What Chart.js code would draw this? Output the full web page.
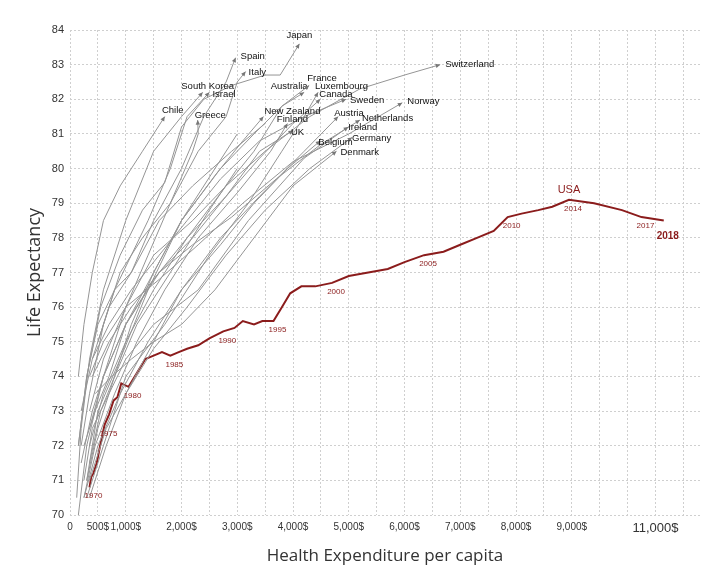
<!DOCTYPE html>
<html><head><meta charset="utf-8">
<script src="https://cdn.jsdelivr.net/npm/chart.js@4"></script>
<style>html,body{margin:0;background:#fff}#w{width:710px;height:566px}</style>
</head><body><div id="w"><canvas id="c"></canvas></div>
<script>
const countryNames=["Japan","Spain","Italy","Switzerland","South Korea","Israel","Chile","Greece","Australia","France","Luxembourg","Canada","Sweden","Norway","New Zealand","Finland","UK","Austria","Netherlands","Ireland","Germany","Belgium","Denmark","","",""];
const countryX=[
[150,300,550,900,1300,1700,2000,2400,2900,3500,3770,4115],
[150,300,500,800,1100,1500,2000,2400,2800,2970],
[200,400,700,1000,1400,1800,2300,2800,3000,3150],
[350,600,1000,1500,2200,2800,3500,4300,5200,6000,6640],
[120,200,350,600,1000,1500,2000,2380],
[500,800,1100,1400,1800,2100,2500],
[150,250,400,600,900,1300,1700],
[200,350,600,900,1300,1800,2200,2300,2290],
[300,500,900,1400,2000,2700,3300,3800,4200],
[350,600,1000,1500,2100,2800,3300,3800,4290],
[300,600,1000,1700,2500,3200,3800,4200,4450],
[350,600,1000,1600,2200,2800,3400,4000,4490],
[400,700,1100,1600,2100,2700,3400,4200,4950],
[350,600,1000,1600,2300,3100,4000,5000,5960],
[350,550,800,1100,1500,2000,2600,3100,3470],
[250,450,800,1200,1700,2300,3000,3600,3900],
[250,450,700,1000,1500,2100,2800,3400,4000],
[250,500,900,1400,2000,2700,3400,4200,4810],
[400,700,1100,1600,2200,2900,3700,4500,5200],
[250,400,700,1000,1500,2300,3200,4200,4990],
[350,650,1000,1500,2100,2800,3500,4300,5060],
[350,650,1000,1500,2000,2700,3300,3900,4490],
[450,750,1100,1500,2000,2600,3300,4000,4780],
[150,300,600,1000,1500,2000,2600,3000],
[200,400,700,1100,1600,2200,2900,3500],
[300,500,800,1200,1800,2500,3000]];
const countryY=[
[72,74,76,77.5,78.8,79.6,81.2,82,82.4,82.7,82.7,83.6],
[72,74,75.5,76.5,77,78.5,80,81.5,82.5,83.2],
[71.5,73,74.5,76,77.5,79,80.5,81.5,82.5,82.8],
[73,74.5,76,77.5,78.5,79.5,80.5,81.5,82.3,82.7,83.0],
[70.5,72.5,74.5,76.5,78.5,80.5,81.5,82.2],
[75,76.5,77.5,78.5,80,81.5,82.2],
[74,75.5,77,78.5,79.5,80.5,81.5],
[72,73.5,75.5,77,78,79,80.5,81.0,81.4],
[71,73,74.5,76.5,78.5,80,81,81.8,82.2],
[72,73.5,75,76.5,78,79.5,80.5,81.8,82.4],
[70.5,72,74,75.5,77.5,79,80.5,81.5,82.2],
[72.5,74,75.5,77,78,79.2,80.3,81.3,82.0],
[74.5,75.5,76.5,77.5,78.5,79.7,80.8,81.5,82.0],
[74,75,76,76.8,77.8,79,80.2,81.0,81.9],
[71.5,73,74,75.5,77,78.5,79.8,80.8,81.5],
[70.5,72,73.5,75,76.5,78,79.3,80.5,81.3],
[72,73,74,75.5,76.8,78,79.2,80.5,81.1],
[70.5,72,73.5,75,76.5,78,79.2,80.5,81.5],
[74,75,76,77,77.8,78.6,79.7,80.7,81.4],
[71,72.5,73.5,74.5,75.5,76.5,78.5,80.3,81.2],
[70.5,72,73.5,74.8,76,77.5,78.8,80,80.9],
[71,72.5,73.5,75,76.5,77.8,79,80,80.8],
[73.5,74,74.5,75,75.5,76.5,78,79.5,80.5],
[70,72,74,75.5,77,78.5,80,81],
[73,74.5,76,77,78.5,79.5,80.5,81.3],
[71,72.5,74,75.5,77,78.8,80]];
const labelPos=[[0,-8,"center"],[5,-1,"left"],[3,1,"left"],[5,0,"left"],[5,-6,"center"],[3,2,"left"],[8,-6,"center"],[-3,-5,"left"],[-15,-6,"center"],[-2,-7,"left"],[-3,-6,"left"],[-1,-5,"left"],[4,1,"left"],[5,-1,"left"],[1,-5,"left"],[5,-4,"center"],[-2,2,"left"],[-4,-3,"left"],[2,-2,"left"],[0,0,"left"],[0,1,"left"],[-2,2,"left"],[4,1,"left"],[0,0,"left"],[0,0,"left"],[0,0,"left"]];
const usaYears=[1970,1971,1972,1973,1974,1975,1976,1977,1978,1979,1980,1981,1982,1983,1984,1985,1986,1987,1988,1989,1990,1991,1992,1993,1994,1995,1996,1997,1998,1999,2000,2001,2002,2003,2004,2005,2006,2007,2008,2009,2010,2011,2012,2013,2014,2015,2016,2017,2018];
const usaX=[350,380,420,480,540,620,700,780,850,920,1050,1200,1350,1500,1650,1800,1950,2100,2300,2500,2750,2950,3100,3300,3450,3650,3800,3950,4150,4400,4700,5000,5350,5700,6000,6350,6700,7000,7300,7600,7850,8100,8400,8650,8950,9400,9900,10250,10650];
const usaY=[70.8,71.1,71.2,71.5,72.0,72.6,72.9,73.3,73.4,73.8,73.7,74.1,74.5,74.6,74.7,74.6,74.7,74.8,74.9,75.1,75.3,75.4,75.6,75.5,75.6,75.6,76.0,76.4,76.6,76.6,76.7,76.9,77.0,77.1,77.3,77.5,77.6,77.8,78.0,78.2,78.6,78.7,78.8,78.9,79.1,79.0,78.8,78.6,78.5];
const usaLabelYears=[1970,1975,1980,1985,1990,1995,2000,2005,2010,2014,2017,2018];
const xTickLabels={0:"0",500:"500$",1000:"1,000$",2000:"2,000$",3000:"3,000$",4000:"4,000$",5000:"5,000$",6000:"6,000$",7000:"7,000$",8000:"8,000$",9000:"9,000$",10500:"11,000$"};

const GRAY='#959595', RED='#8b1c1c';
const datasets=countryX.map((xs,i)=>({label:countryNames[i],data:xs.map((x,j)=>({x,y:countryY[i][j]})),borderColor:GRAY,borderWidth:1,pointRadius:0,tension:0,clip:false}));
datasets.push({label:'USA',data:usaX.map((x,j)=>({x,y:usaY[j]})),borderColor:RED,borderWidth:2,pointRadius:0,tension:0});

const annot={id:'annot',afterDatasetsDraw(ch){
 const c=ch.ctx,xs=ch.scales.x,ys=ch.scales.y;
 c.save();
 countryX.forEach((xsArr,i)=>{
  const n=xsArr.length,x1=xs.getPixelForValue(xsArr[n-1]),y1=ys.getPixelForValue(countryY[i][n-1]);
  const x0=xs.getPixelForValue(xsArr[n-2]),y0=ys.getPixelForValue(countryY[i][n-2]);
  const a=Math.atan2(y1-y0,x1-x0);
  if(countryNames[i]){
   c.fillStyle='#777';c.beginPath();c.moveTo(x1,y1);
   c.lineTo(x1-5*Math.cos(a-0.45),y1-5*Math.sin(a-0.45));
   c.lineTo(x1-5*Math.cos(a+0.45),y1-5*Math.sin(a+0.45));c.closePath();c.fill();
   const p=labelPos[i];c.fillStyle='#111';c.font='9.5px "Liberation Sans"';c.textAlign=p[2];c.textBaseline='middle';
   c.fillText(countryNames[i],x1+p[0],y1+p[1]);
  }
 });
 c.fillStyle=RED;c.textAlign='center';c.textBaseline='middle';
 usaLabelYears.forEach(yr=>{
  const j=usaYears.indexOf(yr);const px=xs.getPixelForValue(usaX[j]),py=ys.getPixelForValue(usaY[j]);
  c.font=yr===2018?'bold 10px "Liberation Sans"':'8px "Liberation Sans"';
  c.fillText(String(yr),px+4,py+(yr===2018?16:9));
 });
 const j=usaYears.indexOf(2014);
 c.font='11px "Liberation Sans"';c.fillText('USA',xs.getPixelForValue(usaX[j]),ys.getPixelForValue(usaY[j])-10);
 c.restore();
}};

new Chart(document.getElementById('c'),{type:'line',data:{datasets},plugins:[annot],
options:{responsive:true,maintainAspectRatio:false,animation:false,
 layout:{padding:{left:20,right:10,top:30,bottom:0}},
 plugins:{legend:{display:false},tooltip:{enabled:false}},
 scales:{
  x:{type:'linear',min:0,max:11300,
   afterBuildTicks(s){const t=[];for(let v=0;v<=11000;v+=500)t.push({value:v});s.ticks=t;},
   afterFit(s){s.height=51;},
   grid:{color:'#cfcfcf',drawTicks:false},border:{display:false,dash:[2,2]},
   ticks:{autoSkip:false,maxRotation:0,padding:6,color:'#333',font:ctx=>({family:'"Liberation Sans"',size:ctx.tick&&ctx.tick.value===10500?13:10}),callback:v=>xTickLabels[v]!==undefined?xTickLabels[v]:''},
   title:{display:true,text:'Health Expenditure per capita',color:'#333',font:{family:'"Open Sans"',size:17},padding:{top:2,bottom:0}}},
  y:{min:70,max:84,
   afterFit(s){s.width=50;},
   grid:{color:'#cfcfcf',drawTicks:false},border:{display:false,dash:[2,2]},
   ticks:{stepSize:1,padding:6,color:'#333',font:{family:'"Liberation Sans"',size:11}},
   title:{display:true,text:'Life Expectancy',color:'#333',font:{family:'"Open Sans"',size:18},padding:{bottom:2}}}
 }}});
</script></body></html>
